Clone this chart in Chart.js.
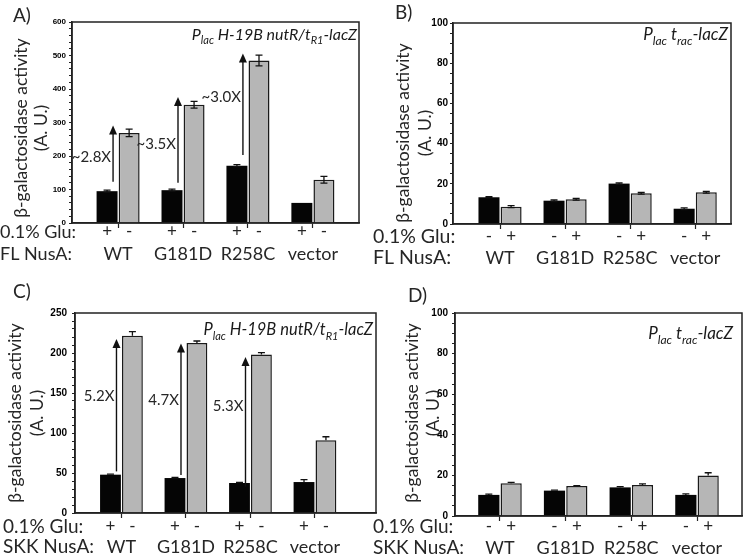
<!DOCTYPE html>
<html>
<head>
<meta charset="utf-8">
<script src="https://cdn.jsdelivr.net/npm/chart.js@4/dist/chart.umd.min.js"></script>
<style>
  body { margin: 0; background: #fff; width: 745px; height: 557px; overflow: hidden; }
  .panel { position: absolute; }
</style>
</head>
<body>
<div class="panel" style="left:0;top:0;width:372px;height:278px"><canvas id="cA"></canvas></div>
<div class="panel" style="left:372px;top:0;width:373px;height:278px"><canvas id="cB"></canvas></div>
<div class="panel" style="left:0;top:278px;width:378px;height:279px"><canvas id="cC"></canvas></div>
<div class="panel" style="left:372px;top:278px;width:373px;height:279px"><canvas id="cD"></canvas></div>
<script>
const groups = ['WT', 'G181D', 'R258C', 'vector'];

// A) FL NusA, Plac H-19B nutR/tR1-lacZ
const aSigns = ['+', '-'];
const aRows = ['0.1% Glu:', 'FL NusA:'];
const aBlack = [95, 98, 171, 60];
const aBlackErr = [3, 3, 3, 0];
const aGray = [269, 353, 485, 129];
const aGrayErr = [11, 10, 16, 10];
const aArrowFrom = [123, 120, 203];
const aArrowTo = [291, 376, 506];
const aFold = ['~2.8X', '~3.5X', '~3.0X'];
const aFoldAt = [198, 234, 375];

// B) FL NusA, Plac trac-lacZ
const bSigns = ['-', '+'];
const bRows = ['0.1% Glu:', 'FL NusA:'];
const bBlack = [13.3, 11.6, 20.1, 7.6];
const bBlackErr = [0.3, 0.4, 0.4, 0.4];
const bGray = [8.6, 12.3, 15.3, 15.8];
const bGrayErr = [0.5, 0.4, 0.4, 0.4];

// C) SKK NusA, Plac H-19B nutR/tR1-lacZ
const cSigns = ['+', '-'];
const cRows = ['0.1% Glu:', 'SKK NusA:'];
const cBlack = [47.9, 43.7, 37.5, 38.7];
const cBlackErr = [0.8, 0.8, 0.6, 3];
const cGray = [221.7, 212.5, 198, 90.8];
const cGrayErr = [5, 2.5, 2.5, 4.5];
const cArrowFrom = [52, 47.5, 33];
const cArrowTo = [217.5, 212, 195];
const cFold = ['5.2X', '4.7X', '5.3X'];
const cFoldAt = [146, 141, 134];

// D) SKK NusA, Plac trac-lacZ
const dSigns = ['-', '+'];
const dRows = ['0.1% Glu:', 'SKK NusA:'];
const dBlack = [10.4, 12.5, 14.1, 10.4];
const dBlackErr = [0.4, 0.2, 0.4, 0.5];
const dGray = [16.1, 14.8, 15.3, 19.9];
const dGrayErr = [0.5, 0.2, 0.5, 1.4];

const subLong = [['P', 0], ['lac', 1], [' H-19B nutR/t', 0], ['R1', 1], ['-lacZ', 0]];
const subShort = [['P', 0], ['lac', 1], [' t', 0], ['rac', 1], ['-lacZ', 0]];

const TXT = '#262626';
const FONT = 'Lato, "Open Sans", sans-serif';

function drawSubtitle(ctx, parts, right, y, size) {
  const big = 'italic ' + size + 'px ' + FONT;
  const small = 'italic ' + Math.round(size * 0.68) + 'px ' + FONT;
  let w = 0;
  parts.forEach(p => { ctx.font = p[1] ? small : big; w += ctx.measureText(p[0]).width; });
  let x = right - w;
  ctx.textAlign = 'left';
  ctx.textBaseline = 'alphabetic';
  parts.forEach(p => {
    ctx.font = p[1] ? small : big;
    ctx.fillText(p[0], x, p[1] ? y + size * 0.28 : y);
    x += ctx.measureText(p[0]).width;
  });
}

function panelPlugin(p) {
  return {
    id: 'panel' + p.letter,
    afterDatasetsDraw(chart) {
      const ctx = chart.ctx, ys = chart.scales.y, area = chart.chartArea;
      ctx.save();
      // error bars
      [[0, p.blackErr, p.black], [1, p.grayErr, p.gray]].forEach(([di, errs, vals]) => {
        chart.getDatasetMeta(di).data.forEach((el, i) => {
          if (!errs[i]) return;
          const top = ys.getPixelForValue(vals[i] + errs[i]);
          const bot = p.errBoth ? ys.getPixelForValue(vals[i] - errs[i]) : el.y;
          ctx.strokeStyle = '#111';
          ctx.lineWidth = 1.3;
          ctx.beginPath();
          ctx.moveTo(el.x, top); ctx.lineTo(el.x, bot);
          ctx.moveTo(el.x - 3.5, top); ctx.lineTo(el.x + 3.5, top);
          if (p.errBoth) { ctx.moveTo(el.x - 3.5, bot); ctx.lineTo(el.x + 3.5, bot); }
          ctx.stroke();
        });
      });
      // fold-change arrows
      if (p.arrowFrom) {
        const blacks = chart.getDatasetMeta(0).data;
        p.arrowFrom.forEach((v, i) => {
          const x = blacks[i].x + 6;
          const y0 = ys.getPixelForValue(v), y1 = ys.getPixelForValue(p.arrowTo[i]);
          ctx.strokeStyle = '#111';
          ctx.fillStyle = '#111';
          ctx.lineWidth = 1.4;
          ctx.beginPath();
          ctx.moveTo(x, y0); ctx.lineTo(x, y1 + 8);
          ctx.stroke();
          ctx.beginPath();
          ctx.moveTo(x, y1); ctx.lineTo(x - 4, y1 + 9); ctx.lineTo(x + 4, y1 + 9);
          ctx.closePath(); ctx.fill();
          ctx.font = '15px ' + FONT;
          ctx.fillStyle = TXT;
          ctx.textAlign = 'right';
          ctx.textBaseline = 'middle';
          ctx.fillText(p.fold[i], x - 2, ys.getPixelForValue(p.foldAt[i]));
        });
      }
      // plot frame
      ctx.strokeStyle = '#222';
      ctx.lineWidth = 1.5;
      ctx.strokeRect(area.left, area.top, area.right - area.left, area.bottom - area.top);
      ctx.restore();
    },
    afterDraw(chart) {
      const ctx = chart.ctx;
      ctx.save();
      ctx.fillStyle = TXT;
      // panel letter
      ctx.font = '19px ' + FONT;
      ctx.textAlign = 'left';
      ctx.textBaseline = 'middle';
      ctx.fillText(p.letter + ')', p.letterPos[0], p.letterPos[1]);
      // y title
      ctx.font = '17.5px ' + FONT;
      ctx.textAlign = 'center';
      ['β-galactosidase activity', '(A. U.)'].forEach((t, i) => {
        ctx.save();
        ctx.translate(p.titleX[i], p.titleY);
        ctx.rotate(-Math.PI / 2);
        ctx.fillText(t, 0, 0);
        ctx.restore();
      });
      // row labels
      ctx.textAlign = 'left';
      ctx.font = p.rowSize + 'px ' + FONT;
      p.rows.forEach((t, i) => ctx.fillText(t, p.rowX, p.rowY[i]));
      // glucose signs under each bar
      ctx.textAlign = 'center';
      ctx.font = '17px ' + FONT;
      [0, 1].forEach(di => {
        chart.getDatasetMeta(di).data.forEach(el => ctx.fillText(p.signs[di], el.x, p.rowY[0]));
      });
      // NusA variant names
      ctx.font = p.catSize + 'px ' + FONT;
      const xs = chart.scales.x;
      groups.forEach((g, i) => ctx.fillText(g, xs.getPixelForValue(i + 1), p.rowY[1]));
      // construct label
      ctx.fillStyle = '#1a1a1a';
      drawSubtitle(ctx, p.sub, p.subPos[0], p.subPos[1], p.subSize);
      ctx.restore();
    }
  };
}

function makePanel(id, p) {
  const yW = 30, xH = 8;
  const canvas = document.getElementById(id);
  const W = canvas.parentNode.clientWidth, H = canvas.parentNode.clientHeight;
  new Chart(canvas, {
    type: 'bar',
    data: {
      datasets: [
        {
          data: p.black.map((v, i) => ({ x: i + 1, y: v })),
          backgroundColor: '#050505',
          borderWidth: 0
        },
        {
          data: p.gray.map((v, i) => ({ x: i + 1, y: v })),
          backgroundColor: '#b6b6b6',
          borderColor: '#1a1a1a',
          borderWidth: 1.5
        }
      ]
    },
    options: {
      responsive: true,
      maintainAspectRatio: false,
      animation: false,
      events: [],
      categoryPercentage: 0.68,
      barPercentage: 0.95,
      layout: {
        padding: { left: p.plot[0] - yW, top: p.plot[1], right: W - p.plot[2], bottom: H - p.plot[3] - xH }
      },
      plugins: { legend: { display: false }, tooltip: { enabled: false } },
      scales: {
        x: {
          type: 'linear',
          min: p.xRange[0],
          max: p.xRange[1],
          offset: false,
          afterBuildTicks: s => { s.ticks = groups.map((g, i) => ({ value: i + 1 })); },
          afterFit: s => { s.height = xH; },
          ticks: { display: false },
          grid: { offset: false, drawOnChartArea: false, tickLength: 5, color: '#222', tickWidth: 1.2 },
          border: { color: '#222', width: 1.5 }
        },
        y: {
          min: 0,
          max: p.yMax,
          afterFit: s => { s.width = yW; },
          ticks: {
            stepSize: p.yMinor,
            autoSkip: false,
            padding: p.tickPad,
            color: '#000',
            font: { family: '"Liberation Sans", Arial, sans-serif', weight: 'bold', size: p.tickSize },
            callback: v => (v % p.yMajor === 0 ? v : '')
          },
          grid: { drawOnChartArea: false, tickLength: 3, color: '#222', tickWidth: 1 },
          border: { color: '#222', width: 1.5 }
        }
      }
    },
    plugins: [panelPlugin(p)]
  });
}

makePanel('cA', {
  letter: 'A', letterPos: [13, 16],
  plot: [72, 22, 359, 223], xRange: [0.29, 4.71],
  yMax: 600, yMajor: 100, yMinor: 20, tickSize: 8, tickPad: 3,
  black: aBlack, blackErr: aBlackErr, gray: aGray, grayErr: aGrayErr, errBoth: true,
  arrowFrom: aArrowFrom, arrowTo: aArrowTo, fold: aFold, foldAt: aFoldAt,
  signs: aSigns, rows: aRows, rowX: 0, rowY: [232, 254], rowSize: 18, catSize: 18,
  titleX: [21, 41], titleY: 128,
  sub: subLong, subPos: [357, 40], subSize: 16
});

makePanel('cB', {
  letter: 'B', letterPos: [23, 13],
  plot: [81, 23, 359, 224], xRange: [0.277, 4.55],
  yMax: 100, yMajor: 20, yMinor: 5, tickSize: 10, tickPad: 2,
  black: bBlack, blackErr: bBlackErr, gray: bGray, grayErr: bGrayErr, errBoth: true,
  signs: bSigns, rows: bRows, rowX: 1, rowY: [237, 258], rowSize: 19.5, catSize: 18,
  titleX: [31, 53], titleY: 133,
  sub: subShort, subPos: [356, 40], subSize: 17
});

makePanel('cC', {
  letter: 'C', letterPos: [13, 14],
  plot: [75, 35, 376, 235], xRange: [0.28, 4.946],
  yMax: 250, yMajor: 50, yMinor: 10, tickSize: 10, tickPad: 5,
  black: cBlack, blackErr: cBlackErr, gray: cGray, grayErr: cGrayErr, errBoth: false,
  arrowFrom: cArrowFrom, arrowTo: cArrowTo, fold: cFold, foldAt: cFoldAt,
  signs: cSigns, rows: cRows, rowX: 3, rowY: [249, 269], rowSize: 19, catSize: 18,
  titleX: [15, 37], titleY: 135,
  sub: subLong, subPos: [373, 57], subSize: 16.5
});

makePanel('cD', {
  letter: 'D', letterPos: [36, 18],
  plot: [83, 35, 370, 238], xRange: [0.315, 4.685],
  yMax: 100, yMajor: 20, yMinor: 5, tickSize: 10, tickPad: 4,
  black: dBlack, blackErr: dBlackErr, gray: dGray, grayErr: dGrayErr, errBoth: false,
  signs: dSigns, rows: dRows, rowX: 1, rowY: [249, 270], rowSize: 19, catSize: 18,
  titleX: [40, 61], titleY: 135,
  sub: subShort, subPos: [361, 61], subSize: 17
});
</script>
</body>
</html>
